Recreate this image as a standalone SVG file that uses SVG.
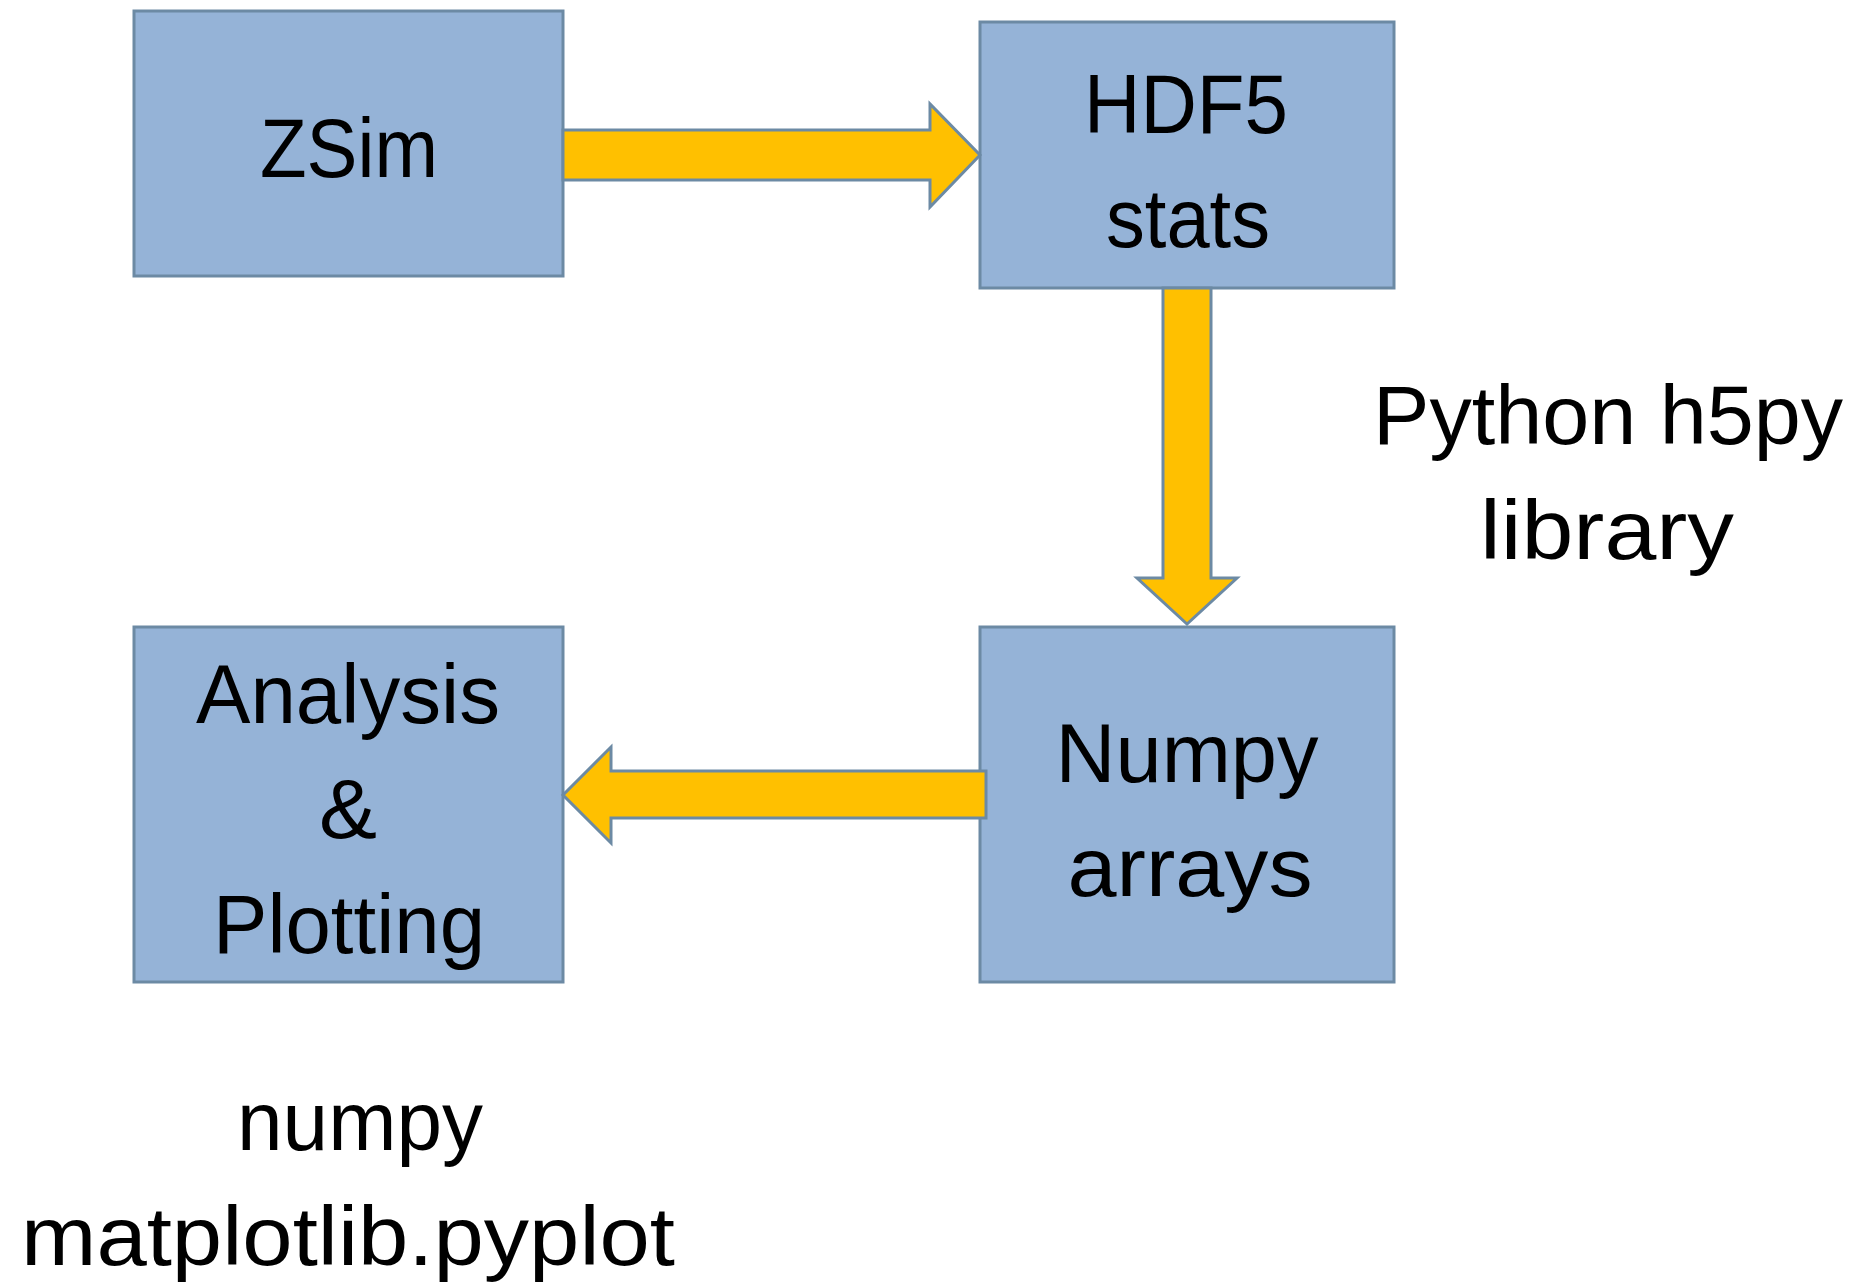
<svg xmlns="http://www.w3.org/2000/svg" width="1856" height="1284" viewBox="0 0 1856 1284">
  <defs>
    <style>
      .box { fill: #95B3D7; stroke: #6C8AA4; stroke-width: 3; }
      .flow { fill: #FFC000; stroke: #6C8AA4; stroke-width: 3; stroke-linejoin: miter; }
      .lbl { font-family: "Liberation Sans", "DejaVu Sans", sans-serif; font-size: 84px; fill: #000000; text-anchor: middle; }
    </style>
  </defs>
  <rect width="1856" height="1284" fill="#FFFFFF"/>

  <g id="node-zsim">
    <rect class="box" x="134" y="11" width="429" height="265"/>
    <text class="lbl" x="349" y="177" textLength="178" lengthAdjust="spacingAndGlyphs">ZSim</text>
  </g>

  <g id="node-hdf5">
    <rect class="box" x="980" y="22" width="414" height="266"/>
    <text class="lbl" x="1186" y="133" textLength="204" lengthAdjust="spacingAndGlyphs">HDF5</text>
    <text class="lbl" x="1188" y="247" textLength="164" lengthAdjust="spacingAndGlyphs">stats</text>
  </g>

  <g id="node-numpy">
    <rect class="box" x="980" y="627" width="414" height="355"/>
    <text class="lbl" x="1187" y="782" textLength="263" lengthAdjust="spacingAndGlyphs">Numpy</text>
    <text class="lbl" x="1190" y="896" textLength="245" lengthAdjust="spacingAndGlyphs">arrays</text>
  </g>

  <g id="node-analysis">
    <rect class="box" x="134" y="627" width="429" height="355"/>
    <text class="lbl" x="348" y="723" textLength="304" lengthAdjust="spacingAndGlyphs">Analysis</text>
    <text class="lbl" x="348" y="838" textLength="58" lengthAdjust="spacingAndGlyphs">&amp;</text>
    <text class="lbl" x="349" y="953" textLength="272" lengthAdjust="spacingAndGlyphs">Plotting</text>
  </g>

  <!-- block arrows between the stages, drawn over the box edges -->
  <g id="connectors">
    <path class="flow" d="M563,130 L930,130 L930,104 L980,155 L930,207 L930,180 L563,180 Z"/>
    <path class="flow" d="M1163,288 L1211,288 L1211,578 L1237,578 L1187,624 L1137,578 L1163,578 Z"/>
    <path class="flow" d="M986,771 L611,771 L611,747 L563,795 L611,843 L611,818 L986,818 Z"/>
  </g>

  <!-- free-standing notes -->
  <g id="note-h5py">
    <text class="lbl" x="1608" y="444" textLength="470" lengthAdjust="spacingAndGlyphs">Python h5py</text>
    <text class="lbl" x="1607" y="559" textLength="254" lengthAdjust="spacingAndGlyphs">library</text>
  </g>

  <g id="note-libs">
    <text class="lbl" x="360" y="1150" textLength="246" lengthAdjust="spacingAndGlyphs">numpy</text>
    <text class="lbl" x="348" y="1265" textLength="654" lengthAdjust="spacingAndGlyphs">matplotlib.pyplot</text>
  </g>
</svg>
